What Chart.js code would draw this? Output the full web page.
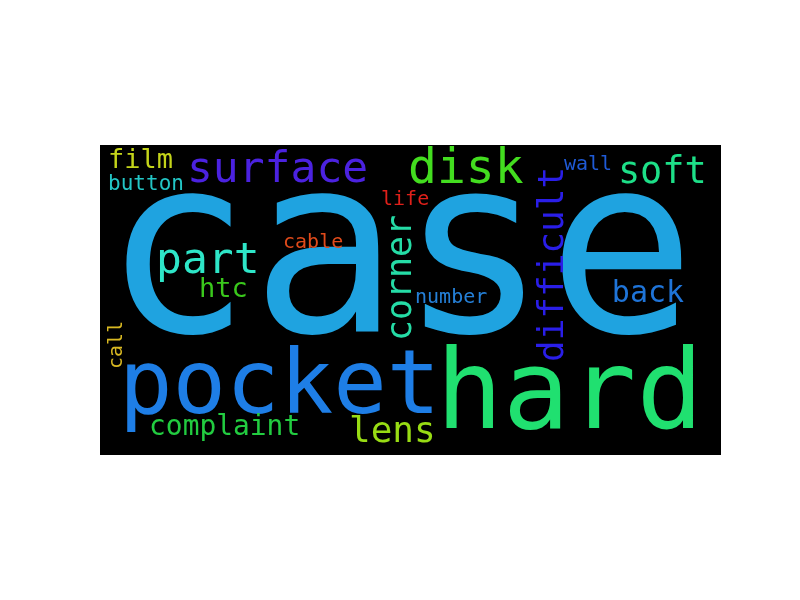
<!DOCTYPE html>
<html>
<head>
<meta charset="utf-8">
<title>Word cloud</title>
<script src="https://cdn.jsdelivr.net/npm/chart.js@4/dist/chart.umd.min.js"></script>
<style>
    html, body { margin: 0; padding: 0; background: #fff; }
    #wrap { width: 800px; height: 600px; }
</style>
</head>
<body>
<div id="wrap"><canvas id="nube"></canvas></div>
<script>
// words of the cloud, position in a 400 x 200 layout (baseline start), size and rotation
const words = ["case", "pocket", "hard", "surface", "disk", "difficult", "corner", "soft", "part", "back",
    "lens", "complaint", "film", "htc", "button", "cable", "life", "wall", "number", "call"];
const wordX = [1.9, 12.2, 216.4, 56.0, 198.4, 298.2, 200.3, 333.6, 36.1, 329.7,
    160.4, 31.6, 5.2, 63.8, 5.2, 117.9, 181.0, 298.8, 202.9, 14.2];
const wordY = [120.6, 172.9, 182.5, 23.9, 24.5, 140.0, 126.5, 24.5, 82.6, 101.3,
    191.6, 187.1, 14.8, 98.0, 29.0, 66.4, 38.7, 16.1, 101.9, 144.5];
const wordSize = [158.5, 57.3, 71.5, 27.7, 30.9, 23.2, 22.5, 23.8, 27.7, 19.3,
    23.2, 18.0, 17.4, 17.4, 13.5, 12.9, 12.9, 12.9, 12.9, 12.9];
const wordVertical = [false, false, false, false, false, true, true, false, false, false,
    false, false, false, false, false, false, false, false, false, true];

const colores = ["#1fa3e0", "#1e7ee6", "#20e070", "#4b22e0", "#43dd1f", "#2a1ee8", "#25dca6", "#1ddf88", "#2ee6c8", "#1f74d8",
    "#98dc14", "#22cc40", "#c4d41a", "#3ac81c", "#23c6c6", "#e04a1a", "#e0201a", "#1f5ad6", "#2580d8", "#d8b822"];

const puntos = words.map((w, i) => ({ x: wordX[i], y: wordY[i] }));

// black background and the words, drawn at the points the scales give
const nubePlugin = {
    id: "nube",
    beforeDatasetsDraw(chart) {
        const a = chart.chartArea;
        const ctx = chart.ctx;
        ctx.save();
        ctx.fillStyle = "#000";
        ctx.fillRect(a.left, a.top, a.right - a.left, a.bottom - a.top);
        ctx.restore();
    },
    afterDatasetsDraw(chart) {
        const a = chart.chartArea;
        const ctx = chart.ctx;
        const xs = chart.scales.x;
        const unidad = (a.right - a.left) / (xs.max - xs.min);
        const meta = chart.getDatasetMeta(0);

        ctx.save();
        ctx.beginPath();
        ctx.rect(a.left, a.top, a.right - a.left, a.bottom - a.top);
        ctx.clip();
        ctx.textAlign = "left";
        ctx.textBaseline = "alphabetic";
        meta.data.forEach((pt, i) => {
            ctx.save();
            ctx.translate(pt.x, pt.y);
            if (wordVertical[i]) {
                ctx.rotate(-Math.PI / 2);
            }
            ctx.font = (wordSize[i] * unidad).toFixed(1) + "px 'DejaVu Sans Mono'";
            ctx.fillStyle = colores[i];
            ctx.fillText(words[i], 0, 0);
            ctx.restore();
        });
        ctx.restore();
    }
};

new Chart(document.getElementById("nube").getContext("2d"), {
    type: "scatter",
    data: {
        datasets: [{
            label: "words",
            data: puntos,
            pointRadius: 0,
            pointHoverRadius: 0
        }]
    },
    options: {
        responsive: true,
        maintainAspectRatio: false,
        animation: false,
        events: [],
        layout: {
            padding: { left: 100, right: 79, top: 145, bottom: 145 }
        },
        scales: {
            x: { type: "linear", min: 0, max: 400, display: false },
            y: { type: "linear", min: 0, max: 200, reverse: true, display: false }
        },
        plugins: {
            legend: { display: false },
            tooltip: { enabled: false }
        }
    },
    plugins: [nubePlugin]
});
</script>
</body>
</html>
